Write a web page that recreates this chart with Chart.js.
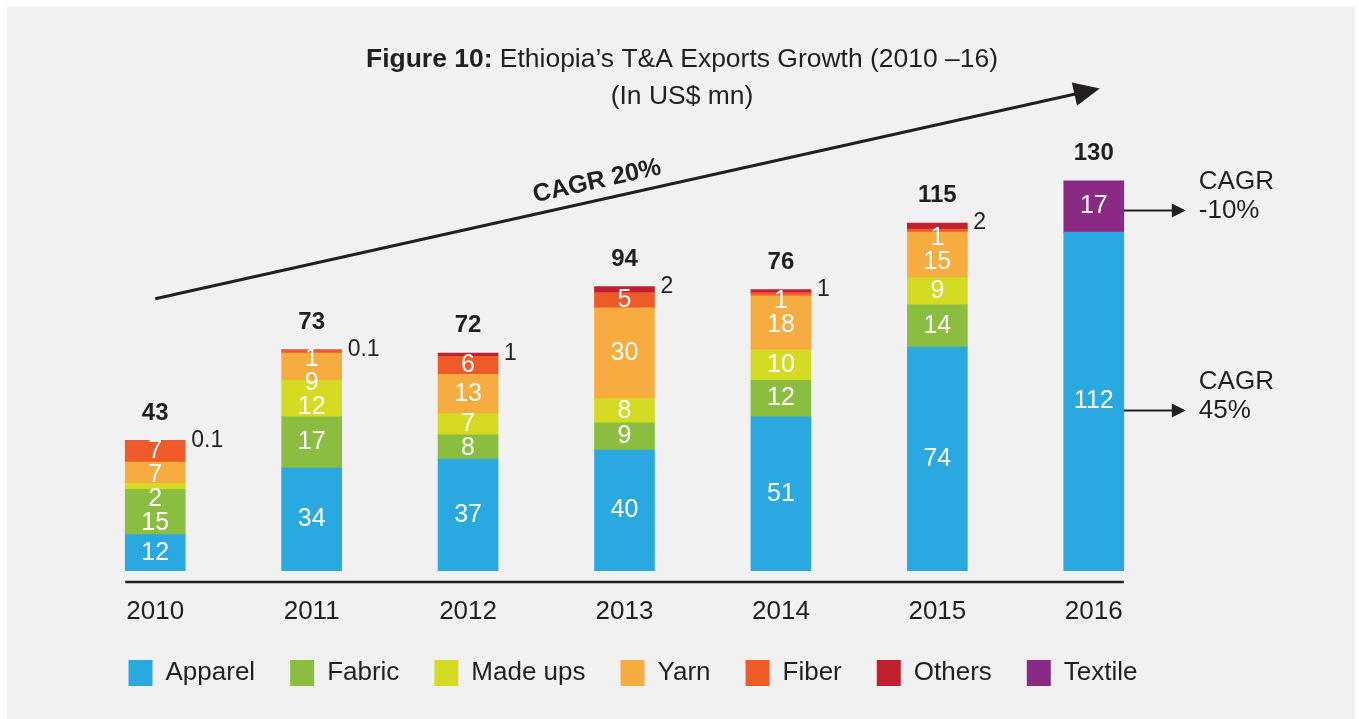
<!DOCTYPE html>
<html>
<head>
<meta charset="utf-8">
<script src="https://cdn.jsdelivr.net/npm/chart.js@4"></script>
<style>
  html, body { margin: 0; padding: 0; background: #fff; }
  #wrap { width: 1359px; height: 719px; position: relative; }
</style>
</head>
<body>
<div id="wrap"><canvas id="myChart-TAExports"></canvas></div>
<script>
// data (US$ mn)
const years = ['2010', '2011', '2012', '2013', '2014', '2015', '2016'];
const apparel = [12, 34, 37, 40, 51, 74, 112];
const fabric = [15, 17, 8, 9, 12, 14, null];
const madeUps = [2, 12, 7, 8, 10, 9, null];
const yarn = [7, 9, 13, 30, 18, 15, null];
const fiber = [7, 1, 6, 5, 1, 1, null];
const others = [0.1, 0.1, 1, 2, 1, 2, null];
const textile = [null, null, null, null, null, null, 17];
const totals = [43, 73, 72, 94, 76, 115, 130];

const seriesNames = ['Apparel', 'Fabric', 'Made ups', 'Yarn', 'Fiber', 'Others', 'Textile'];
const seriesColors = ['#2aa8e0', '#8bbe40', '#d5da23', '#f7ac40', '#ee5a28', '#c0202f', '#8a2a85'];
const seriesData = [apparel, fabric, madeUps, yarn, fiber, others, textile];

const FONT = '"Liberation Sans", Arial, sans-serif';
const INK = '#231f20';

function arrow(c, x1, y1, x2, y2, head, half, w) {
    const a = Math.atan2(y2 - y1, x2 - x1);
    const bx = x2 - head * Math.cos(a), by = y2 - head * Math.sin(a);
    c.lineWidth = w;
    c.beginPath(); c.moveTo(x1, y1); c.lineTo(bx + Math.cos(a), by + Math.sin(a)); c.stroke();
    c.beginPath();
    c.moveTo(x2, y2);
    c.lineTo(bx + half * Math.sin(a), by - half * Math.cos(a));
    c.lineTo(bx - half * Math.sin(a), by + half * Math.cos(a));
    c.closePath(); c.fill();
}

const decor = {
    id: 'decor',
    beforeDraw(chart) {
        const c = chart.ctx;
        c.save();
        c.fillStyle = '#ffffff';
        c.fillRect(0, 0, chart.width, chart.height);
        c.fillStyle = '#f1f1f1';
        c.fillRect(7, 7, chart.width - 11, chart.height - 7);
        c.restore();
    },
    afterDatasetsDraw(chart) {
        const c = chart.ctx;
        const xs = chart.scales.x, ys = chart.scales.y;
        c.save();
        c.fillStyle = INK; c.strokeStyle = INK;

        // title, drawn a bit condensed like the original
        const bold = 'Figure 10:', rest = ' Ethiopia\u2019s T&A Exports Growth (2010 \u201316)';
        c.font = 'bold 25px ' + FONT; const wb = c.measureText(bold).width;
        c.font = '25px ' + FONT; const wr = c.measureText(rest).width;
        const sx = 632 / (wb + wr);
        c.textAlign = 'left'; c.textBaseline = 'alphabetic';
        c.save(); c.translate(366, 67); c.scale(sx, 1);
        c.font = 'bold 25px ' + FONT; c.fillText(bold, 0, 0);
        c.font = '25px ' + FONT; c.fillText(rest, wb, 0);
        c.restore();
        const sub = '(In US$ mn)';
        const ws = c.measureText(sub).width * sx;
        c.save(); c.translate(682 - ws / 2, 104); c.scale(sx, 1); c.fillText(sub, 0, 0); c.restore();

        // segment labels, top-down so small segments don't collide
        const metas = seriesData.map((d, i) => chart.getDatasetMeta(i));
        years.forEach((yr, j) => {
            let prev = -Infinity;
            for (let i = seriesData.length - 1; i >= 0; i--) {
                const v = seriesData[i][j];
                if (v === null) continue;
                const el = metas[i].data[j];
                if (seriesNames[i] === 'Others') {
                    c.font = '23px ' + FONT;
                    c.fillStyle = INK; c.textAlign = 'left'; c.textBaseline = 'middle';
                    c.fillText(String(v), el.x + el.width / 2 + 6, el.y);
                    continue;
                }
                let y = (el.y + el.base) / 2 + (v < 3 ? 7 : 0);
                y = Math.max(y, prev + 24);
                prev = y;
                c.font = '25px ' + FONT;
                c.fillStyle = '#ffffff'; c.textAlign = 'center'; c.textBaseline = 'middle';
                c.fillText(String(v), el.x, y);
            }
        });

        // totals
        c.fillStyle = INK; c.font = 'bold 24px ' + FONT;
        c.textAlign = 'center'; c.textBaseline = 'alphabetic';
        years.forEach((y, j) => {
            let top = Infinity;
            metas.forEach((meta, i) => {
                if (seriesData[i][j] !== null) top = Math.min(top, meta.data[j].y);
            });
            c.fillText(String(totals[j]), xs.getPixelForValue(j), top - 21);
        });

        // base line under the bars
        const first = metas[0].data[0], last = metas[0].data[years.length - 1];
        const yb = ys.getPixelForValue(0) + 11;
        c.lineWidth = 2.5;
        c.beginPath();
        c.moveTo(first.x - first.width / 2, yb);
        c.lineTo(last.x + last.width / 2, yb);
        c.stroke();

        // CAGR 20% trend arrow
        const x1 = xs.getPixelForValue(0), y1 = ys.getPixelForValue(90);
        const x2 = xs.getPixelForValue(6) + 6, y2 = ys.getPixelForValue(159.5);
        arrow(c, x1, y1, x2, y2, 26, 12, 3);
        const ang = Math.atan2(y2 - y1, x2 - x1);
        const tx = 597, ty = y1 + (tx - x1) * Math.tan(ang) - 19;
        c.save(); c.translate(tx, ty); c.rotate(ang);
        c.font = 'bold 25px ' + FONT; c.textAlign = 'center'; c.textBaseline = 'middle';
        c.fillText('CAGR 20%', 0, 0);
        c.restore();

        // side CAGR arrows for 2016
        const side = [[6, 'CAGR', '-10%', 4], [0, 'CAGR', '45%', 9]];
        c.font = '26px ' + FONT; c.textAlign = 'left'; c.textBaseline = 'middle';
        side.forEach(([i, l1, l2, dy]) => {
            const el = metas[i].data[6];
            const ym = (el.y + el.base) / 2 + dy;
            const xr = el.x + el.width / 2;
            arrow(c, xr, ym, xr + 62, ym, 14, 7, 2);
            c.fillText(l1, xr + 75, ym - 29);
            c.fillText(l2, xr + 75, ym);
        });
        c.restore();
    }
};

new Chart(document.getElementById('myChart-TAExports'), {
    type: 'bar',
    data: {
        labels: years,
        datasets: seriesNames.map((name, i) => ({
            label: name,
            data: seriesData[i],
            backgroundColor: seriesColors[i],
            borderWidth: 0,
            barThickness: 60
        }))
    },
    options: {
        responsive: true,
        maintainAspectRatio: false,
        animation: false,
        layout: { padding: { top: 87, left: 77, right: 170, bottom: 23 } },
        scales: {
            x: {
                stacked: true,
                grid: { display: false, drawTicks: false },
                border: { display: false },
                ticks: { color: INK, font: { family: FONT, size: 26 }, padding: 25 },
                afterFit: (scale) => { scale.height = 54; }
            },
            y: {
                stacked: true,
                position: 'right',
                min: 0,
                max: 160,
                grid: { display: false, drawTicks: false },
                border: { display: false },
                ticks: { display: false },
                afterFit: (scale) => { scale.width = 17; }
            }
        },
        plugins: {
            legend: {
                position: 'bottom',
                onClick: null,
                labels: {
                    boxWidth: 24,
                    boxHeight: 26,
                    padding: 35,
                    color: INK,
                    font: { family: FONT, size: 26 }
                }
            },
            tooltip: { enabled: false }
        }
    },
    plugins: [decor]
});
</script>
</body>
</html>
